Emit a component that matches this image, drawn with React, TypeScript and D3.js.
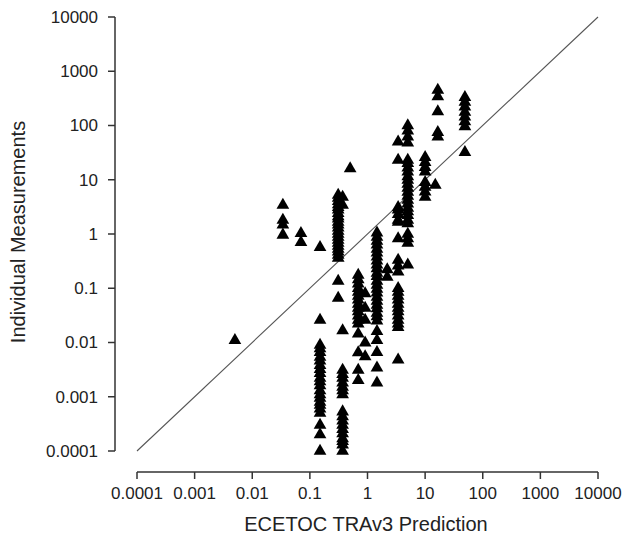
import React from "react";
import * as d3 from "d3";

// Log-log scatter: ECETOC TRAv3 prediction vs individual measurements
const tickValues = [0.0001, 0.001, 0.01, 0.1, 1, 10, 100, 1000, 10000];
const tickLabels = ["0.0001", "0.001", "0.01", "0.1", "1", "10", "100", "1000", "10000"];

// Predicted values (x) for each column of measurements
const predictions = [0.005, 0.034, 0.07, 0.15, 0.31, 0.37, 0.5, 0.69, 0.91, 1.46, 2.2, 3.4, 5.0, 10, 15, 16.6, 49];

const m_0_005 = [0.011];
const m_0_034 = [3.4, 1.8, 1.47, 0.96];
const m_0_07 = [1.03, 0.7];
const m_0_15 = [0.57, 0.026, 0.009, 0.0077, 0.0066, 0.0054, 0.0046, 0.0038, 0.0032, 0.0027, 0.0022, 0.0019, 0.0016, 0.0013, 0.0011, 0.00095, 0.0008, 0.0007, 0.0006, 0.0005, 0.0003, 0.0002, 0.0001];
const m_0_31 = [5.2, 4.6, 4.0, 3.5, 3.1, 2.8, 2.4, 2.1, 1.9, 1.65, 1.47, 1.3, 1.13, 1.0, 0.88, 0.77, 0.68, 0.6, 0.53, 0.47, 0.41, 0.36, 0.135, 0.066];
const m_0_37 = [4.8, 3.4, 0.0165, 0.0031, 0.0026, 0.0022, 0.0018, 0.0015, 0.0013, 0.0011, 0.00053, 0.00043, 0.00036, 0.0003, 0.00025, 0.00021, 0.00017, 0.00015, 0.00013, 0.0001];
const m_0_5 = [16];
const m_0_69 = [0.175, 0.145, 0.12, 0.1, 0.085, 0.072, 0.061, 0.051, 0.043, 0.037, 0.031, 0.026, 0.022, 0.0145, 0.0065, 0.0031, 0.002];
const m_0_91 = [0.08, 0.043, 0.026, 0.0099, 0.0055];
const m_1_46 = [1.05, 0.88, 0.74, 0.63, 0.53, 0.45, 0.38, 0.32, 0.27, 0.23, 0.19, 0.165, 0.135, 0.115, 0.097, 0.082, 0.069, 0.058, 0.049, 0.042, 0.035, 0.03, 0.025, 0.016, 0.011, 0.0066, 0.0034, 0.0018];
const m_2_2 = [0.22, 0.16];
const m_3_4 = [50, 23, 3.1, 2.8, 2.3, 1.8, 1.65, 0.82, 0.33, 0.26, 0.2, 0.1, 0.085, 0.072, 0.061, 0.051, 0.043, 0.037, 0.031, 0.026, 0.022, 0.019, 0.0048];
const m_5 = [100, 80, 62, 48, 23, 20, 16.5, 14, 11.5, 9.9, 8.3, 7.0, 5.9, 5.0, 4.2, 3.6, 3.0, 2.6, 2.2, 1.8, 1.55, 1.0, 0.82, 0.68, 0.27];
const m_10 = [26, 21, 17, 14, 9.0, 7.3, 6.0, 4.8];
const m_15 = [8];
const m_16_6 = [450, 340, 180, 75, 62];
const m_49 = [330, 270, 220, 177, 145, 118, 96, 32];

const measurements = [m_0_005, m_0_034, m_0_07, m_0_15, m_0_31, m_0_37, m_0_5, m_0_69, m_0_91, m_1_46, m_2_2, m_3_4, m_5, m_10, m_15, m_16_6, m_49];

const xTitle = "ECETOC TRAv3 Prediction";
const yTitle = "Individual Measurements";

export default function App() {
  const W = 623, H = 545;
  const x = d3.scaleLog().domain([0.0001, 10000]).range([137, 598]);
  const y = d3.scaleLog().domain([0.0001, 10000]).range([451, 17]);
  const tri = d3.symbol().type(d3.symbolTriangle).size(70)();
  const points: { px: number; py: number }[] = [];
  predictions.forEach((p, i) => {
    measurements[i].forEach((v) => points.push({ px: x(p), py: y(v) }));
  });
  const font = "'Liberation Sans', Arial, sans-serif";
  const axisColor = "#333";
  const xAxisY = 472;
  const yAxisX = 115;
  return (
    <svg width={W} height={H} style={{ position: "absolute", left: 0, top: 0, background: "#fff" }} fontFamily={font}>
      <rect width={W} height={H} fill="#fff" />
      {/* diagonal 1:1 line */}
      <line x1={x(0.0001)} y1={y(0.0001)} x2={x(10000)} y2={y(10000)} stroke="#555" strokeWidth={1.1} />
      {/* Y axis */}
      <line x1={yAxisX} y1={y(10000)} x2={yAxisX} y2={y(0.0001)} stroke={axisColor} strokeWidth={1.5} />
      {tickValues.map((t, i) => (
        <g key={"yt" + i}>
          <line x1={yAxisX - 7} x2={yAxisX} y1={y(t)} y2={y(t)} stroke={axisColor} strokeWidth={1.5} />
          <text x={98} y={y(t)} dy="0.35em" textAnchor="end" fontSize={17} fill="#222">{tickLabels[i]}</text>
        </g>
      ))}
      {/* X axis */}
      <line x1={x(0.0001)} y1={xAxisY} x2={x(10000)} y2={xAxisY} stroke={axisColor} strokeWidth={1.5} />
      {tickValues.map((t, i) => (
        <g key={"xt" + i}>
          <line x1={x(t)} x2={x(t)} y1={xAxisY} y2={xAxisY + 7} stroke={axisColor} strokeWidth={1.5} />
          <text x={x(t)} y={499} textAnchor="middle" fontSize={17} fill="#222">{tickLabels[i]}</text>
        </g>
      ))}
      {/* Titles */}
      <text x={366} y={531} textAnchor="middle" fontSize={20} fill="#222">{xTitle}</text>
      <text transform={`translate(25, 232) rotate(-90)`} textAnchor="middle" fontSize={20} fill="#222">{yTitle}</text>
      {/* points */}
      {points.map((p, i) => (
        <path key={i} d={tri} transform={`translate(${p.px},${p.py})`} fill="#000" />
      ))}
    </svg>
  );
}
